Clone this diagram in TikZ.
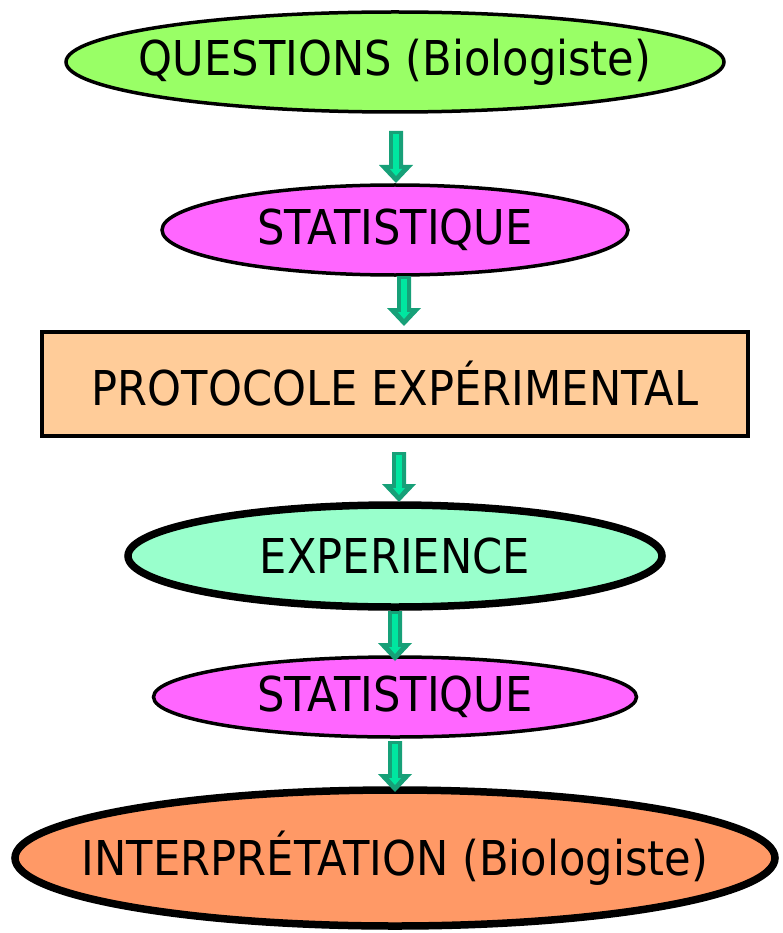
\documentclass[tikz,border=0pt]{standalone}
\usepackage{fontspec}
\setmainfont{DejaVu Sans}[FakeStretch=0.9]
\usetikzlibrary{shapes.geometric}
\definecolor{qgreen}{HTML}{99FF66}
\definecolor{smag}{HTML}{FF66FF}
\definecolor{porange}{HTML}{FFCC99}
\definecolor{emint}{HTML}{99FFCC}
\definecolor{iorange}{HTML}{FF9966}
\definecolor{arrdark}{HTML}{17A078}
\definecolor{arrlight}{HTML}{00E6A0}
\tikzset{
  ell/.style={ellipse, draw=black, inner sep=0pt},
  txt/.style={inner sep=0pt, font=\fontsize{48}{50}\selectfont},
  thin3/.style={line width=3.5pt},
  thick8/.style={line width=7.5pt},
}
\newcommand{\blockarr}[3]{%
  \fill[arrdark] (#1-7,#2) -- (#1+7,#2) -- (#1+7,#3-18) -- (#1+17,#3-18) -- (#1,#3) -- (#1-17,#3-18) -- (#1-7,#3-18) -- cycle;
  \fill[arrlight] (#1-3,#2+3) rectangle (#1+3,#3-14);
  \fill[arrlight] (#1-6,#3-14) -- (#1+6,#3-14) -- (#1,#3-7) -- cycle;
}
\begin{document}
\begin{tikzpicture}[x=1pt,y=-1pt]
\useasboundingbox (0,0) rectangle (782,933);
\node[ell, thin3, fill=qgreen, minimum width=658pt, minimum height=100pt] (q) at (395,62) {};
\node[txt] (qt) at (q.center) {QUESTIONS (Biologiste)};
\node[ell, thin3, fill=smag, minimum width=466pt, minimum height=90pt] (s1) at (395,230) {};
\node[txt] (s1t) at (s1.center) {STATISTIQUE};
\node[draw=black, thin3, fill=porange, minimum width=706pt, minimum height=104pt] (p) at (395,384) {};
\node[txt] (pt) at (p.center) {PROTOCOLE EXPÉRIMENTAL};
\node[ell, thick8, fill=emint, minimum width=534pt, minimum height=102pt] (e) at (395,556) {};
\node[txt] (et) at (e.center) {EXPERIENCE};
\node[ell, thin3, fill=smag, minimum width=483pt, minimum height=80pt] (s2) at (395,697) {};
\node[txt] (s2t) at (s2.center) {STATISTIQUE};
\node[ell, thick8, fill=iorange, minimum width=760pt, minimum height=136pt] (i) at (395,858) {};
\node[txt] (it) at (i.center) {INTERPRÉTATION (Biologiste)};
\blockarr{396}{131}{183}
\blockarr{404}{276}{326}
\blockarr{399}{452}{502}
\blockarr{395}{611}{661}
\blockarr{395}{741}{792}
\end{tikzpicture}
\end{document}
